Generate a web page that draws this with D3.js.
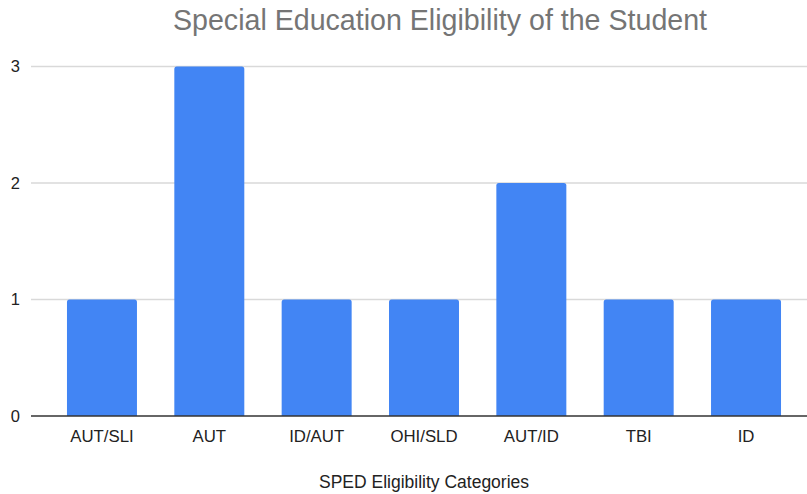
<!DOCTYPE html>
<html><head><meta charset="utf-8">
<script src="https://cdn.jsdelivr.net/npm/d3@7"></script>
<style>body{margin:0;background:#fff}svg{display:block}</style>
</head><body>
<svg id="c" width="807" height="494"></svg>
<script>
const categories = ["AUT/SLI","AUT","ID/AUT","OHI/SLD","AUT/ID","TBI","ID"];
const counts = [1,3,1,1,2,1,1];
const yTicks = [0,1,2,3];
const title = "Special Education Eligibility of the Student";
const xTitle = "SPED Eligibility Categories";

const svg = d3.select("#c");
const font = "Liberation Sans, Arial, sans-serif";
const x = d3.scaleBand().domain(categories).range([48.3, 799.7]).paddingInner(0.348).paddingOuter(0.174);
const y = d3.scaleLinear().domain([0,3]).range([416, 66.5]);

// grid
svg.append("g").selectAll("line").data(yTicks.filter(d=>d>0)).join("line")
  .attr("x1",31).attr("x2",807).attr("y1",d=>y(d)).attr("y2",d=>y(d))
  .attr("stroke","#d9d9d9").attr("stroke-width",1.3);

// y labels
svg.append("g").selectAll("text").data(yTicks).join("text")
  .attr("x",20).attr("y",d=>y(d)).attr("dy","0.35em").attr("text-anchor","end")
  .attr("font-family",font).attr("font-size",16.5).attr("fill","#222").text(d=>d);

// bars with rounded top corners
const r = 2.5;
svg.append("g").selectAll("path").data(categories).join("path")
  .attr("fill","#4285F4")
  .attr("d",(c,i)=>{
    const x0=x(c), w=x.bandwidth(), y0=y(counts[i]), y1=y(0);
    return `M${x0},${y1}V${y0+r}Q${x0},${y0} ${x0+r},${y0}H${x0+w-r}Q${x0+w},${y0} ${x0+w},${y0+r}V${y1}Z`;
  });

// baseline
svg.append("line").attr("x1",31).attr("x2",807).attr("y1",y(0)).attr("y2",y(0))
  .attr("stroke","#333").attr("stroke-width",1.3);

// x labels
svg.append("g").selectAll("text").data(categories).join("text")
  .attr("x",c=>x(c)+x.bandwidth()/2).attr("y",442).attr("text-anchor","middle")
  .attr("font-family",font).attr("font-size",16.8).attr("fill","#222").text(c=>c);

// titles
svg.append("text").attr("x",440).attr("y",30).attr("text-anchor","middle")
  .attr("font-family",font).attr("font-size",28.6).attr("fill","#757575").text(title);
svg.append("text").attr("x",424).attr("y",488).attr("text-anchor","middle")
  .attr("font-family",font).attr("font-size",17.5).attr("fill","#222").text(xTitle);
</script>
</body></html>
